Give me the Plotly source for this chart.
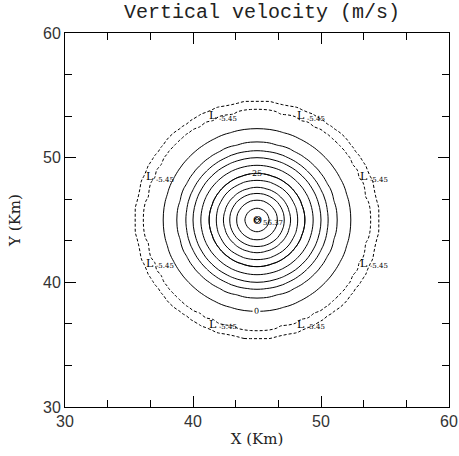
import numpy as np
import plotly.graph_objects as go

# ---- data ----
TITLE = "Vertical velocity (m/s)"
X_RANGE = [30, 60]
Y_RANGE = [30, 60]
TICK_VALUES = [30, 40, 50, 60]
TICK_LABELS = ["30", "40", "50", "60"]

CENTER = (45.0, 45.0)
MAX_VALUE = 56.37
# radial profile: contour radius (km) for each value
PROFILE_R = [0.0, 0.95, 1.6, 2.15, 2.6, 3.2, 3.7, 4.4, 5.0, 5.55, 6.2, 7.3, 8.7, 9.1, 9.55, 11.0, 14.0, 30.0]
PROFILE_W = [56.37, 50, 45, 40, 35, 30, 25, 20, 15, 10, 5, 0, -5, -5.3, -5, -2, -0.5, 0]

LOW_ANGLES_DEG = [22.5, 67.5, 112.5, 157.5, 202.5, 247.5, 292.5, 337.5]
LOW_RADIUS = 9.05
LOW_VALUE = -5.45

SOLID_LEVELS = dict(start=5, end=55, size=5)
LABELED_LEVELS = [0, 25]
DASHED_LEVEL = -5

# ---- build field ----
xs = np.arange(30, 60.001, 0.5)
ys = np.arange(30, 60.001, 0.5)
X, Y = np.meshgrid(xs, ys)
R = np.hypot(X - CENTER[0], Y - CENTER[1])
TH = np.arctan2(Y - CENTER[1], X - CENTER[0])
Z = np.interp(R, PROFILE_R, PROFILE_W)
# deeper trough at the eight lows
depth = LOW_VALUE - (-5.3)
Z = Z + depth * 0.5 * (1 + np.cos(8 * (TH - np.deg2rad(LOW_ANGLES_DEG[0])))) * np.exp(-((R - LOW_RADIUS) / 0.6) ** 2)

black = [[0, "black"], [1, "black"]]
fig = go.Figure()

fig.add_trace(go.Contour(x=xs, y=ys, z=Z, autocontour=False, contours=dict(coloring="lines", **SOLID_LEVELS),
                         colorscale=black, showscale=False, line=dict(width=1), hoverinfo="skip"))
for lv in LABELED_LEVELS:
    fig.add_trace(go.Contour(x=xs, y=ys, z=Z, autocontour=False,
                             contours=dict(coloring="lines", start=lv, end=lv, size=5, showlabels=True,
                                           labelfont=dict(size=8, family="DejaVu Serif", color="black")),
                             colorscale=black, showscale=False, line=dict(width=1), hoverinfo="skip"))
fig.add_trace(go.Contour(x=xs, y=ys, z=Z, autocontour=False,
                         contours=dict(coloring="lines", start=DASHED_LEVEL, end=DASHED_LEVEL, size=5),
                         colorscale=black, showscale=False, line=dict(width=1, dash="3px,2px"), hoverinfo="skip"))

annotations = []
def add_extremum(x, y, letter, value):
    annotations.append(dict(x=x, y=y, text=letter, showarrow=False, xanchor="center", yanchor="middle",
                            font=dict(size=11, family="DejaVu Serif", color="black")))
    annotations.append(dict(x=x, y=y, text=f"{value:.2f}", showarrow=False, xanchor="left", yanchor="middle",
                            xshift=4, yshift=-3, font=dict(size=7, family="DejaVu Serif", color="black")))

for a in LOW_ANGLES_DEG:
    t = np.deg2rad(a)
    add_extremum(CENTER[0] + LOW_RADIUS * np.cos(t), CENTER[1] + LOW_RADIUS * np.sin(t), "L", LOW_VALUE)
add_extremum(CENTER[0], CENTER[1], "\u0398", MAX_VALUE)

axis_common = dict(showline=True, linecolor="black", linewidth=1, mirror="ticks", ticks="inside", ticklen=11,
                   tickcolor="black", tickwidth=1, showgrid=False, zeroline=False, automargin=False,
                   tickvals=TICK_VALUES, ticktext=TICK_LABELS,
                   tickfont=dict(family="Liberation Sans", size=16, color="#333333"),
                   minor=dict(dtick=10 / 3, tick0=30, ticks="inside", ticklen=7, tickcolor="black", showgrid=False))

fig.update_layout(
    width=459, height=456,
    margin=dict(l=65, r=10, t=33, b=49),
    paper_bgcolor="white", plot_bgcolor="white",
    title=dict(text=TITLE, x=0.571, xanchor="center", y=0.975, yanchor="middle",
               font=dict(family="Liberation Mono", size=20, color="#222222")),
    xaxis=dict(range=X_RANGE, title=dict(text="X (Km)", standoff=4,
               font=dict(family="DejaVu Serif", size=15, color="#222222")), **axis_common),
    yaxis=dict(range=Y_RANGE, title=dict(text="Y (Km)", standoff=18,
               font=dict(family="DejaVu Serif", size=15, color="#222222")), **axis_common),
    annotations=annotations,
    showlegend=False,
)

fig.write_html("out.html", config={"displayModeBar": False},
               post_script="document.body.style.margin='0';document.body.style.overflow='hidden';")
